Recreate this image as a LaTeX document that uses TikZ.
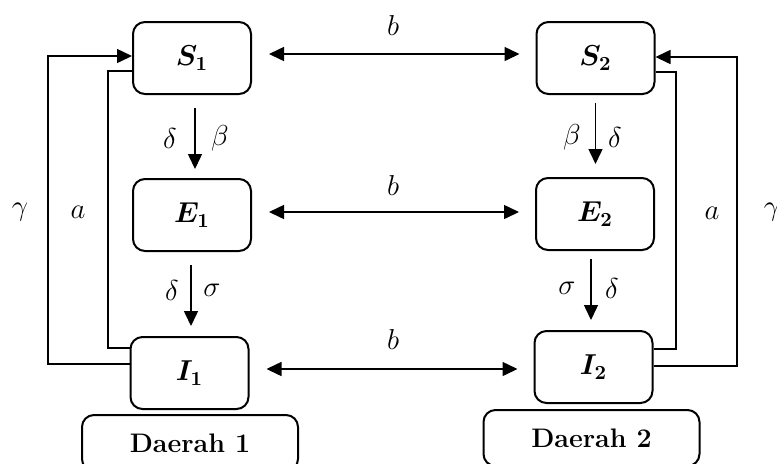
\documentclass[tikz,border=0pt]{standalone}
\usepackage{amsmath,bm}
\usepackage{fontspec}
\usetikzlibrary{arrows.meta}
\begin{document}
\begin{tikzpicture}[x=0.5pt,y=-0.5pt,
  box/.style={draw,line width=1pt,rounded corners=6pt,minimum width=59pt,minimum height=36pt,inner sep=0pt,font=\fontsize{14.4}{17}\selectfont},
  region/.style={draw,line width=1pt,rounded corners=6pt,minimum width=108pt,minimum height=28pt,inner sep=0pt,font=\fontsize{13.4}{16}\selectfont\bfseries},
  conn/.style={line width=0.75pt},
  arr/.style={conn,-{Triangle[length=7.5pt,width=7pt]}},
  darr/.style={conn,{Triangle[length=7.5pt,width=7pt]}-{Triangle[length=7.5pt,width=7pt]}},
  lab/.style={font=\fontsize{14.4}{17}\selectfont,inner sep=0pt}]
\useasboundingbox (0,0) rectangle (777,463);
% compartments
\node[box] (S1) at (192,58) {$\bm{S_1}$};
\node[box] (E1) at (192,215) {$\bm{E_1}$};
\node[box] (I1) at (189.5,373) {$\bm{I_1}$};
\node[box] (S2) at (595.5,58) {$\bm{S_2}$};
\node[box] (E2) at (595,214) {$\bm{E_2}$};
\node[box] (I2) at (593.5,367) {$\bm{I_2}$};
% regions
\node[region] (D1) at (190,443) {Daerah 1};
\node[region] (D2) at (591.5,438) {Daerah 2};
% horizontal migration arrows
\coordinate (hS) at (0,54);
\coordinate (hE) at (0,212);
\coordinate (hI) at (0,369);
\draw[darr,shorten <=8.5pt,shorten >=8pt] (S1.east |- hS) -- (S2.west |- hS);
\draw[darr,shorten <=8.5pt,shorten >=8pt] (E1.east |- hE) -- (E2.west |- hE);
\draw[darr,shorten <=8.5pt,shorten >=8pt] (I1.east |- hI) -- (I2.west |- hI);
\node[lab] (b1) at (393,25) {$b$};
\node[lab] (b2) at (393,185) {$b$};
\node[lab] (b3) at (393,339) {$b$};
% vertical arrows region 1
\draw[arr,shorten <=6.5pt,shorten >=4.5pt] ([xshift=1.5pt]S1.south) -- ([xshift=1.5pt]S1.south |- E1.north);
\draw[arr,shorten <=6.5pt,shorten >=5pt] ([xshift=-0.5pt]E1.south) -- ([xshift=-0.5pt]E1.south |- I1.north);
\node[lab] (l1) at (170,138) {$\delta$};
\node[lab] (l2) at (220,138) {$\beta$};
\node[lab] (l3) at (172,290) {$\delta$};
\node[lab] (l4) at (212,290) {$\sigma$};
% vertical arrows region 2
\draw[arr,shorten <=4pt,shorten >=6.5pt] (S2.south) -- (S2.south |- E2.north);
\draw[arr,shorten <=4pt,shorten >=5pt] ([xshift=-2pt]E2.south) -- ([xshift=-2pt]E2.south |- I2.north);
\node[lab] (l5) at (572,137) {$\beta$};
\node[lab] (l6) at (615,137) {$\delta$};
\node[lab] (l7) at (567,288) {$\sigma$};
\node[lab] (l8) at (612,288) {$\delta$};
% feedback loops region 1
\coordinate (g1) at (48,364);
\coordinate (g2) at (48,56);
\draw[arr] (I1.west |- g1) -- (g1) -- (g2) -- (S1.west |- g2);
\coordinate (a1) at (108,348);
\coordinate (a2) at (108,71);
\draw[conn] (I1.west |- a1) -- (a1) -- (a2) -- (S1.west |- a2);
\node[lab] (gam1) at (20,212) {$\gamma$};
\node[lab] (al1) at (78,212) {$a$};
% feedback loops region 2
\coordinate (g3) at (737,366);
\coordinate (g4) at (737,57);
\draw[arr] (I2.east |- g3) -- (g3) -- (g4) -- (S2.east |- g4);
\coordinate (a3) at (676,72);
\coordinate (a4) at (676,349);
\draw[conn] (S2.east |- a3) -- (a3) -- (a4) -- (I2.east |- a4);
\node[lab] (al2) at (712,213) {$a$};
\node[lab] (gam2) at (772,212) {$\gamma$};
\end{tikzpicture}
\end{document}
